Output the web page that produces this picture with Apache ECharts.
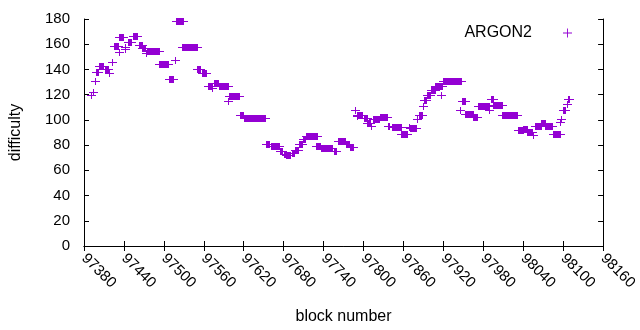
<!DOCTYPE html>
<html>
<head>
<meta charset="utf-8">
<script src="https://cdn.jsdelivr.net/npm/echarts@6/dist/echarts.min.js"></script>
<style>
html,body{margin:0;padding:0;background:#fff;}
#chart{width:640px;height:330px;}
</style>
</head>
<body>
<div id="chart"></div>
<script>
// Runs of equal difficulty: first block, last block, difficulty
const runStart = [97391,97394,97396,97398,97403,97411,97418,97422,97425,97432,97433,97441,97442,97446,97453,97462,97467,97473,97475,97492,97508,97516,97518,97528,97550,97558,97567,97573,97576,97583,97597,97598,97614,97620,97653,97661,97674,97680,97684,97690,97693,97697,97703,97709,97714,97728,97736,97749,97755,97762,97773,97780,97787,97790,97790,97800,97806,97811,97814,97825,97837,97843,97857,97869,97870,97881,97883,97889,97891,97895,97902,97907,97916,97919,97945,97948,97952,97965,97972,97988,97991,97995,98008,98032,98039,98046,98055,98058,98067,98073,98084,98096,98097,98100,98106,98107];
const runEnd   = [97391,97394,97396,97401,97408,97416,97418,97422,97431,97432,97439,97441,97442,97450,97460,97467,97472,97473,97492,97506,97513,97516,97529,97550,97554,97564,97573,97573,97582,97596,97597,97613,97619,97652,97658,97673,97678,97684,97689,97690,97696,97702,97708,97712,97730,97734,97748,97753,97759,97772,97778,97784,97787,97790,97798,97805,97810,97811,97823,97836,97839,97856,97865,97869,97879,97881,97888,97889,97894,97900,97908,97918,97916,97946,97945,97952,97964,97970,97988,97988,97994,98008,98030,98039,98045,98053,98055,98066,98072,98083,98095,98096,98097,98103,98106,98109];
const difficulty = [120,122,131,138,143,140,137,146,158.5,154,166,158,156,162,166.5,159,157,152.8,154.7,144.4,132.7,147.8,178.7,157.8,140,137.2,127.2,125.3,129.3,127,115.3,119.3,104,101.6,81,79.6,75.1,73,72,72.5,73.8,76.5,81,85.2,87.3,79,77.8,78,75.3,83.3,81,78.6,108.2,103.4,104.2,101.6,97.6,95,100.8,102.4,95.2,94.4,88.9,94.4,93.6,101,103.6,111.3,115.5,120,124,126.5,120,130.9,107.6,115,104.3,102.6,111.1,108.2,116.5,111.9,104,91.8,93,90.3,88,95.4,97.8,95.5,88.9,98.7,101,107.7,112.9,116.6];

const xTicks = {min: 97380, max: 98160, interval: 60};
const yTicks = {min: 0, max: 180, interval: 20};
const seriesName = 'ARGON2';

const COLOR = '#9400D3';
const FONT = "'Liberation Sans', Arial, sans-serif";

const data = runStart.map((s, i) => [s, runEnd[i], difficulty[i]]);

const chart = echarts.init(document.getElementById('chart'), null, {renderer: 'canvas'});

const axisLine = {show: true, lineStyle: {color: '#000', width: 1}};
const tickIn = {show: true, inside: true, length: 5, lineStyle: {color: '#000', width: 1}};

chart.setOption({
  animation: false,
  backgroundColor: '#fff',
  grid: {left: 84, right: 30, top: 19, bottom: 84, containLabel: false},
  legend: {
    data: [{name: seriesName, icon: 'path://M0,4.5H10V5.5H0Z M4.5,0H5.5V10H4.5Z'}],
    right: 63, top: 20,
    align: 'right',
    itemWidth: 9, itemHeight: 9,
    textStyle: {fontFamily: FONT, fontSize: 16, color: '#000', padding: [0, 26, 0, 0]},
    itemStyle: {color: COLOR},
    selectedMode: false
  },
  xAxis: [{
    type: 'value', position: 'bottom',
    min: xTicks.min, max: xTicks.max, interval: xTicks.interval,
    name: 'block number', nameLocation: 'middle', nameGap: 63,
    nameTextStyle: {fontFamily: FONT, fontSize: 16, color: '#000'},
    axisLine, axisTick: tickIn, splitLine: {show: false},
    axisLabel: {rotate: -45, margin: 10, fontFamily: FONT, fontSize: 15, color: '#000',
      formatter: v => String(v), showMinLabel: true, showMaxLabel: true}
  }, {
    type: 'value', position: 'top',
    min: xTicks.min, max: xTicks.max, interval: xTicks.interval,
    axisLine, axisTick: tickIn, axisLabel: {show: false}, splitLine: {show: false}
  }],
  yAxis: [{
    type: 'value', position: 'left',
    min: yTicks.min, max: yTicks.max, interval: yTicks.interval,
    name: 'difficulty', nameLocation: 'middle', nameGap: 60,
    nameTextStyle: {fontFamily: FONT, fontSize: 16, color: '#000'},
    axisLine, axisTick: tickIn, splitLine: {show: false},
    axisLabel: {margin: 14, fontFamily: FONT, fontSize: 15, color: '#000'}
  }, {
    type: 'value', position: 'right',
    min: yTicks.min, max: yTicks.max, interval: yTicks.interval,
    axisLine, axisTick: tickIn, axisLabel: {show: false}, splitLine: {show: false}
  }],
  series: [{
    name: seriesName,
    type: 'custom',
    clip: false,
    itemStyle: {color: COLOR},
    encode: {x: [0, 1], y: 2},
    data: data,
    renderItem: function (params, api) {
      const s = api.coord([api.value(0), api.value(2)]);
      const e = api.coord([api.value(1), api.value(2)]);
      const xs = Math.round(s[0]), xe = Math.round(e[0]);
      const yc = Math.round(s[1]);
      return {
        type: 'group',
        children: [
          {type: 'rect', shape: {x: xs, y: yc - 3, width: xe - xs + 1, height: 7}, style: {fill: COLOR}},
          {type: 'rect', shape: {x: xs - 4, y: yc, width: xe - xs + 9, height: 1}, style: {fill: COLOR}}
        ]
      };
    }
  }]
});
</script>
</body>
</html>
